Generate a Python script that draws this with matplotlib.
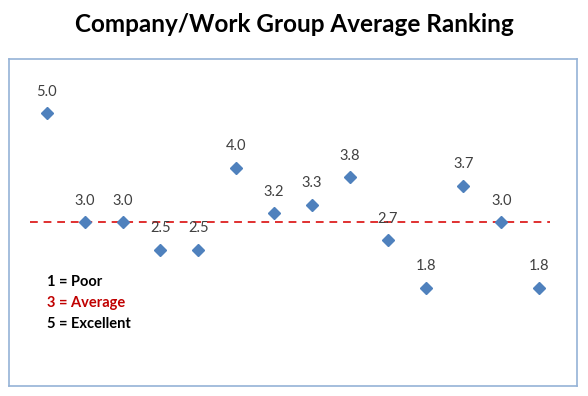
import numpy as np
import matplotlib.pyplot as plt

groups = list(range(1, 15))
rankings = [5.0, 3.0, 3.0, 2.5, 2.5, 4.0, 3.17, 3.33, 3.83, 2.67, 1.8, 3.67, 3.0, 1.8]
average = 3.0
scale_lines = ["1 = Poor", "3 = Average", "5 = Excellent"]
scale_colors = ["black", "#C00000", "black"]

plt.rcParams['font.family'] = ['Lato', 'DejaVu Sans']

fig = plt.figure(figsize=(5.88, 3.96), dpi=100)
ax = fig.add_axes([9/588, 1 - 386/396, 568/588, 327/396])

ax.plot(groups, rankings, linestyle='none', marker='D', markersize=6.5,
        color='#4F81BD', zorder=3)
ax.plot([0.55, 14.3], [average, average], linestyle=(0, (4, 3)),
        color='#E03030', linewidth=1.4, zorder=2)

for x, y in zip(groups, rankings):
    ax.annotate(f"{y:.1f}", (x, y), xytext=(0, 10.5), textcoords='offset points',
                ha='center', va='bottom', fontsize=10.5, color='#404040')

for i, (txt, c) in enumerate(zip(scale_lines, scale_colors)):
    ax.text(1.0, 1.9 - i * 0.38, txt, color=c, fontsize=10.5,
            fontweight='bold', ha='left', va='center')

ax.set_xlim(0, 15)
ax.set_ylim(0, 6)
ax.set_xticks([])
ax.set_yticks([])
for s in ax.spines.values():
    s.set_color('#95B3D7')
    s.set_linewidth(1.2)

fig.text(0.5, 1 - 25/396, "Company/Work Group Average Ranking", ha='center',
         va='center', fontsize=17.5, fontweight='bold')

fig.savefig('out.png', dpi=100)
